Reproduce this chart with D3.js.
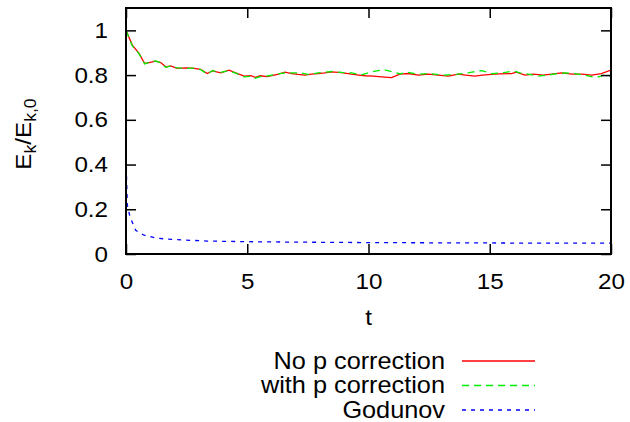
<!DOCTYPE html>
<html>
<head>
<meta charset="utf-8">
<script src="https://cdn.jsdelivr.net/npm/d3@7"></script>
<style>
  body { margin: 0; background: #fff; }
  text { font-family: "Liberation Sans", Arial, sans-serif; fill: #000; }
</style>
</head>
<body>
<div id="chart"></div>
<script>

//Time values and kinetic energy ratio
var redT = [0,0.26,0.54,0.77,0.95,1.22,1.43,1.64,1.84,2.11,2.5,2.8,3.08,3.35,3.56,3.91,4.25,4.6,4.87,5.15,5.33,5.54,5.82,6.25,6.56,6.83,7.1,7.38,7.65,7.93,8.2,8.48,8.89,9.3,9.6,9.86,10.2,10.54,10.95,11.3,11.64,12.05,12.47,12.88,13.29,13.7,14.0,14.39,14.7,14.93,15.4,15.9,16.1,16.45,16.8,17.2,17.55,17.96,18.4,18.8,19.2,19.6,20];
var redE = [1.0,0.934,0.897,0.852,0.856,0.862,0.856,0.837,0.841,0.83,0.832,0.83,0.826,0.807,0.819,0.81,0.822,0.807,0.795,0.797,0.79,0.797,0.793,0.803,0.813,0.807,0.803,0.80,0.804,0.807,0.81,0.814,0.811,0.804,0.80,0.797,0.795,0.792,0.789,0.804,0.807,0.80,0.804,0.80,0.795,0.804,0.80,0.795,0.80,0.802,0.805,0.807,0.813,0.80,0.804,0.80,0.804,0.81,0.804,0.804,0.80,0.807,0.822];

var greenT = [0,0.26,0.54,0.77,0.95,1.22,1.43,1.64,1.84,2.11,2.5,2.8,3.08,3.35,3.56,3.91,4.25,4.6,4.87,5.15,5.33,5.54,5.82,6.25,6.56,6.83,7.2,7.5,7.93,8.48,8.9,9.3,9.7,10.1,10.4,10.6,10.95,11.3,11.57,12.05,12.47,12.9,13.15,13.7,14.26,14.67,15.1,15.7,15.97,16.25,16.6,16.98,17.4,17.8,18.1,18.5,18.9,19.4,19.7,20];
var greenE = [1.0,0.93,0.895,0.85,0.857,0.863,0.855,0.835,0.84,0.832,0.83,0.831,0.824,0.805,0.82,0.812,0.82,0.805,0.792,0.795,0.786,0.793,0.796,0.805,0.81,0.81,0.81,0.803,0.81,0.816,0.812,0.81,0.801,0.813,0.82,0.825,0.816,0.805,0.813,0.804,0.807,0.802,0.80,0.804,0.813,0.82,0.806,0.813,0.818,0.81,0.804,0.795,0.80,0.807,0.81,0.807,0.80,0.789,0.80,0.795];

var blueT = [0,0.02,0.055,0.165,0.4,0.74,1.29,2.1,3.34,5,7,10,13,16,20];
var blueE = [0.55,0.35,0.218,0.166,0.106,0.084,0.07,0.064,0.058,0.055,0.053,0.051,0.05,0.049,0.049];

var xTicks = [0,5,10,15,20];
var yTicks = [0,0.2,0.4,0.6,0.8,1];
var seriesNames = ["No p correction","with p correction","Godunov"];


if(!resketch) var resketch={};
resketch.chart = {


  //**************************************************************************
  //** render
  //**************************************************************************
    render: function(parent){
        var width = 630, height = 422;
        var left = 126, right = 611, top = 8, bottom = 254;
        var stretch = "scale(1.1,1)"; //gnuplot text is a little wider

        var svg = d3.select(parent).append("svg")
            .attr("width", width)
            .attr("height", height);

        var x = d3.scaleLinear().domain([0,20]).range([left,right]);
        var y = d3.scaleLinear().domain([0,1.1]).range([bottom,top]);

        var series = [
            {name: seriesNames[0], t: redT, e: redE, color: "#ff0000", dash: null},
            {name: seriesNames[1], t: greenT, e: greenE, color: "#00ee00", dash: "7,5"},
            {name: seriesNames[2], t: blueT, e: blueE, color: "#0000ff", dash: "4,5"}
        ];

      //Draw curves (clipped to plot area)
        svg.append("clipPath").attr("id","plotClip")
            .append("rect")
            .attr("x",left).attr("y",top)
            .attr("width",right-left).attr("height",bottom-top);

        var line = d3.line()
            .x(function(d){ return x(d[0]); })
            .y(function(d){ return y(d[1]); });

        var plot = svg.append("g").attr("clip-path","url(#plotClip)");
        series.forEach(function(s){
            var pts = s.t.map(function(t,i){ return [t, s.e[i]]; });
            plot.append("path")
                .datum(pts)
                .attr("fill","none")
                .attr("stroke",s.color)
                .attr("stroke-width",1.3)
                .attr("stroke-dasharray",s.dash)
                .attr("d",line);
        });

      //Inward ticks on all four sides
        var tickLen = 10;
        var addTicks = function(axis, tx, ty){
            var g = svg.append("g")
                .attr("transform","translate("+tx+","+ty+")")
                .call(axis.tickSizeInner(tickLen).tickSizeOuter(0).tickFormat(""));
            g.select(".domain").remove();
            g.selectAll("line").attr("stroke","#000").attr("stroke-width",1.5);
        };
        addTicks(d3.axisTop(x).tickValues(xTicks), 0, bottom);
        addTicks(d3.axisBottom(x).tickValues(xTicks), 0, top);
        addTicks(d3.axisRight(y).tickValues(yTicks), left, 0);
        addTicks(d3.axisLeft(y).tickValues(yTicks), right, 0);

      //Frame
        svg.append("rect")
            .attr("x",left).attr("y",top)
            .attr("width",right-left).attr("height",bottom-top)
            .attr("fill","none")
            .attr("stroke","#000")
            .attr("stroke-width",2);

      //Tick labels
        var xAxis = svg.append("g")
            .attr("transform","translate(0,"+bottom+")")
            .call(d3.axisBottom(x).tickValues(xTicks).tickSize(0).tickPadding(19)
                .tickFormat(d3.format("d")));
        xAxis.select(".domain").remove();
        xAxis.selectAll("text")
            .style("font-size","22px")
            .style("font-family",null)
            .attr("transform",stretch);

        var yAxis = svg.append("g")
            .attr("transform","translate("+left+",0)")
            .call(d3.axisLeft(y).tickValues(yTicks).tickSize(0)
                .tickFormat(function(d){ return d===0||d===1 ? d3.format("d")(d) : d3.format(".1f")(d); }));
        yAxis.select(".domain").remove();
        yAxis.selectAll("text")
            .style("font-size","22px")
            .style("font-family",null)
            .attr("x",-18/1.1)
            .attr("transform",stretch);

      //Axis titles
        svg.append("text")
            .attr("transform","translate("+((left+right)/2)+",325) "+stretch)
            .style("text-anchor","middle")
            .style("font-size","22px")
            .text("t");

        var yLabel = svg.append("text")
            .attr("transform","translate(31,134) rotate(-90) "+stretch)
            .style("text-anchor","middle")
            .style("font-size","22px");
        yLabel.append("tspan").text("E");
        yLabel.append("tspan").attr("dy",5).style("font-size","16px").text("k");
        yLabel.append("tspan").attr("dy",-5).text("/E");
        yLabel.append("tspan").attr("dy",5).style("font-size","16px").text("k,0");

      //Legend
        var legend = svg.append("g");
        series.forEach(function(s,i){
            var ly = 361 + i*24.5;
            legend.append("text")
                .attr("transform","translate(445,"+(ly+7.5)+") "+stretch)
                .style("text-anchor","end")
                .style("font-size","23px")
                .text(s.name);
            legend.append("line")
                .attr("x1",462).attr("x2",535)
                .attr("y1",ly).attr("y2",ly)
                .attr("stroke",s.color)
                .attr("stroke-width",1.3)
                .attr("stroke-dasharray",s.dash);
        });
    }
};

resketch.chart.render(document.getElementById("chart"));
</script>
</body>
</html>
